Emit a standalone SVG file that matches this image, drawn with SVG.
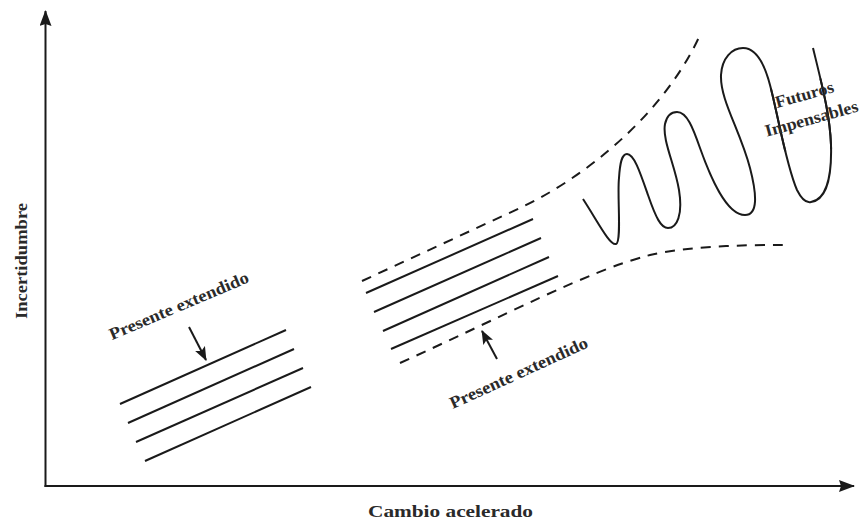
<svg xmlns="http://www.w3.org/2000/svg" width="861" height="521" viewBox="0 0 861 521">
<style>
.ln{stroke:#1a1a1a;stroke-width:2;fill:none;stroke-linecap:butt}
.dash{stroke:#1a1a1a;stroke-width:2;fill:none;stroke-dasharray:10 8}
.lbl{font-family:"Liberation Serif","Times New Roman",serif;font-weight:bold;font-size:17px;fill:#2a2a2a}
</style>
<defs>
<marker id="axisHead" viewBox="0 0 16 12" refX="15" refY="6" markerWidth="16" markerHeight="12" markerUnits="userSpaceOnUse" orient="auto">
<path d="M0,0 L16,6 L0,12 L2,6 z" fill="#1a1a1a"/>
</marker>
<marker id="smallHead" viewBox="0 0 14 11" refX="13" refY="5.5" markerWidth="14" markerHeight="11" markerUnits="userSpaceOnUse" orient="auto">
<path d="M0,0 L14,5.5 L0,11 L3,5.5 z" fill="#1a1a1a"/>
</marker>
<clipPath id="textKnock">
<polygon points="750,93 852,72 852,148 750,153"/>
</clipPath>
</defs>
<rect width="861" height="521" fill="#ffffff"/>

<g id="connectors">
<line class="ln" x1="45.5" y1="487" x2="45.5" y2="11" marker-end="url(#axisHead)"/>
<line class="ln" x1="44.5" y1="486" x2="854" y2="486" marker-end="url(#axisHead)"/>
<line class="ln" x1="189" y1="327" x2="206" y2="360" marker-end="url(#smallHead)"/>
<line class="ln" x1="497" y1="359" x2="482" y2="331" marker-end="url(#smallHead)"/>
</g>

<g id="axis-labels">
<text class="lbl" x="450.5" y="517" text-anchor="middle" textLength="165" lengthAdjust="spacingAndGlyphs">Cambio acelerado</text>
<text class="lbl" transform="translate(27,261) rotate(-90)" x="0" y="0" text-anchor="middle" textLength="116" lengthAdjust="spacingAndGlyphs">Incertidumbre</text>
</g>

<g id="presente-1">
<line class="ln" x1="120" y1="404" x2="286" y2="330"/>
<line class="ln" x1="128" y1="423" x2="294" y2="349"/>
<line class="ln" x1="136" y1="442" x2="303" y2="368"/>
<line class="ln" x1="145" y1="461" x2="311" y2="387"/>
<text class="lbl" transform="translate(181,311) rotate(-23)" x="0" y="0" text-anchor="middle" textLength="150" lengthAdjust="spacingAndGlyphs">Presente extendido</text>
</g>

<g id="presente-2">
<line class="ln" x1="366" y1="293" x2="533" y2="219"/>
<line class="ln" x1="374" y1="312" x2="541" y2="238"/>
<line class="ln" x1="383" y1="331" x2="549" y2="257"/>
<line class="ln" x1="391" y1="349" x2="558" y2="276"/>
<text class="lbl" transform="translate(521,378) rotate(-24.5)" x="0" y="0" text-anchor="middle" textLength="150" lengthAdjust="spacingAndGlyphs">Presente extendido</text>
</g>

<g id="cono">
<path class="dash" d="M362 281 L520 208 C580 180 662 118 700 35"/>
<path class="dash" d="M400 363 C500 318 590 270 650 255 C690 246 740 245 783 245"/>
</g>

<g id="futuros">
<path id="wave" class="ln" d="M583 199 C598 222 610 246 616 244 C622 242 617 195 619 178 C620 162 622 154 627 154 C634 154 640 172 648 195 C656 218 661 228 668 228 C677 228 683 215 679 190 C675 165 662 140 665 124 C667 115 672 112 677 112 C687 112 693 128 700 148 C710 176 726 215 745 215 C758 215 757 195 750 168 C740 130 720 100 721 75 C722 58 732 48 743 48 C756 48 764 62 770 85 C778 115 786 165 797 190 C802 200 807 203 811 202 C825 200 832 180 831 145 C830 115 822 85 813 48"/>
<use href="#wave" clip-path="url(#textKnock)" style="stroke:#9a9a9a"/>
<text class="lbl" transform="translate(806,100) rotate(-15.5)" x="0" y="0" text-anchor="middle" textLength="60" lengthAdjust="spacingAndGlyphs">Futuros</text>
<text class="lbl" transform="translate(813,124) rotate(-15.5)" x="0" y="0" text-anchor="middle" textLength="96" lengthAdjust="spacingAndGlyphs">Impensables</text>
</g>
</svg>
